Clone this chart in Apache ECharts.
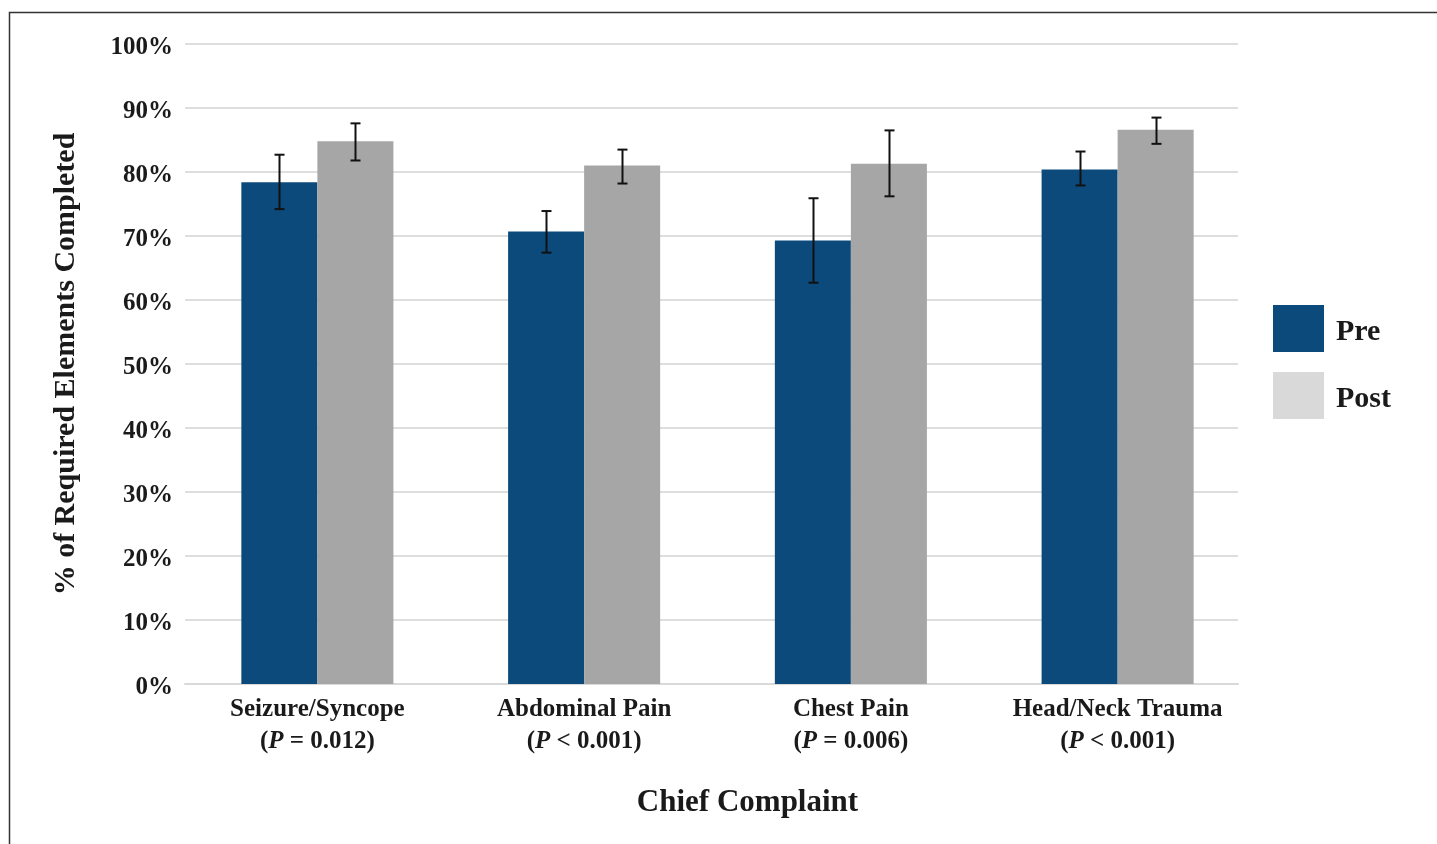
<!DOCTYPE html>
<html>
<head>
<meta charset="utf-8">
<script src="https://cdn.jsdelivr.net/npm/echarts@6/dist/echarts.min.js"></script>
<style>
html,body{margin:0;padding:0;background:#fff;}
#chart{width:1437px;height:844px;}
</style>
</head>
<body>
<div id="chart"></div>
<script>
const categories = ['Seizure/Syncope', 'Abdominal Pain', 'Chest Pain', 'Head/Neck Trauma'];
const pLabels = ['= 0.012', '< 0.001', '= 0.006', '< 0.001'];
const preValues = [78.4, 70.7, 69.3, 80.4];
const preLow = [74.2, 67.4, 62.7, 77.9];
const preHigh = [82.7, 73.9, 75.9, 83.2];
const postValues = [84.8, 81.0, 81.3, 86.6];
const postLow = [81.8, 78.2, 76.2, 84.4];
const postHigh = [87.6, 83.5, 86.5, 88.5];
const yTicks = [0, 10, 20, 30, 40, 50, 60, 70, 80, 90, 100];

const FONT = '"Liberation Serif", "DejaVu Serif", serif';
const PRE_COLOR = '#0c4a7c';
const POST_COLOR = '#a6a6a6';
const POST_LEGEND = '#d9d9d9';
const BAR_FRAC = 0.285;

function errorSeries(name, low, high, side) {
  return {
    name: name + ' err',
    type: 'custom',
    xAxisIndex: 0, yAxisIndex: 0,
    z: 10,
    silent: true,
    data: categories.map((c, i) => [i, low[i], high[i]]),
    renderItem: function (params, api) {
      const i = api.value(0);
      const band = api.size([1, 0])[0];
      const off = side * band * BAR_FRAC / 2;
      const lo = api.coord([i, api.value(1)]);
      const hi = api.coord([i, api.value(2)]);
      const x = Math.round(lo[0] + off) + 0.5;
      const cap = 5;
      const style = { stroke: '#111', lineWidth: 2 };
      return {
        type: 'group',
        children: [
          { type: 'line', shape: { x1: x, y1: lo[1], x2: x, y2: hi[1] }, style: style },
          { type: 'line', shape: { x1: x - cap, y1: lo[1], x2: x + cap, y2: lo[1] }, style: style },
          { type: 'line', shape: { x1: x - cap, y1: hi[1], x2: x + cap, y2: hi[1] }, style: style }
        ]
      };
    }
  };
}

const chart = echarts.init(document.getElementById('chart'));
chart.setOption({
  animation: false,
  backgroundColor: '#fff',
  graphic: [{
    type: 'rect',
    shape: { x: 9.5, y: 12.5, width: 1600, height: 1000 },
    style: { fill: 'none', stroke: '#333', lineWidth: 1.5 },
    silent: true
  }],
  grid: [
    { left: 184, right: 186, top: 44, bottom: 160, containLabel: false },
    { left: 185, right: 199, top: 44, bottom: 160, containLabel: false }
  ],
  legend: {
    orient: 'vertical',
    left: 1273,
    top: 305,
    padding: 0,
    itemWidth: 51,
    itemHeight: 47,
    itemGap: 20,
    icon: 'rect',
    formatter: '{a|{name}}',
    textStyle: {
      fontFamily: FONT, fontWeight: 'bold', fontSize: 30, color: '#1a1a1a',
      rich: { a: { fontFamily: FONT, fontWeight: 'bold', fontSize: 30, color: '#1a1a1a', padding: [8, 0, 0, 7] } }
    },
    data: [
      { name: 'Pre', itemStyle: { color: PRE_COLOR } },
      { name: 'Post', itemStyle: { color: POST_LEGEND } }
    ]
  },
  xAxis: [
    {
      gridIndex: 0,
      type: 'category',
      data: categories,
      name: 'Chief Complaint',
      nameLocation: 'middle',
      nameGap: 103,
      nameTextStyle: { fontFamily: FONT, fontWeight: 'bold', fontSize: 31, color: '#1a1a1a', padding: [0, 0, 0, 60] },
      axisLine: { show: false },
      axisTick: { show: false },
      axisLabel: {
        margin: 10,
        interval: 0,
        lineHeight: 32,
        formatter: function (v, idx) {
          return '{b|' + v + '}\n{b|(}{i|P}{b| ' + pLabels[idx] + ')}';
        },
        rich: {
          b: { fontFamily: FONT, fontWeight: 'bold', fontSize: 25, color: '#1a1a1a', lineHeight: 32 },
          i: { fontFamily: FONT, fontWeight: 'bold', fontStyle: 'italic', fontSize: 25, color: '#1a1a1a', lineHeight: 32 }
        }
      }
    },
    {
      gridIndex: 1,
      type: 'category',
      data: categories,
      axisLine: { show: true, lineStyle: { color: '#d9d9d9', width: 2 } },
      axisTick: { show: false },
      axisLabel: { show: false }
    }
  ],
  yAxis: [
    {
      gridIndex: 0,
      type: 'value',
      min: yTicks[0],
      max: yTicks[yTicks.length - 1],
      interval: 10,
      axisLine: { show: false },
      axisTick: { show: false },
      axisLabel: { show: false },
      splitLine: { show: false }
    },
    {
      gridIndex: 1,
      type: 'value',
      min: yTicks[0],
      max: yTicks[yTicks.length - 1],
      interval: 10,
      name: '% of Required Elements Completed',
      nameLocation: 'middle',
      nameGap: 104,
      nameTextStyle: { fontFamily: FONT, fontWeight: 'bold', fontSize: 30, color: '#1a1a1a' },
      axisLine: { show: false },
      axisTick: { show: false },
      axisLabel: {
        margin: 12,
        formatter: '{a|{value}%}',
        rich: { a: { fontFamily: FONT, fontWeight: 'bold', fontSize: 25, color: '#1a1a1a', padding: [7, 0, 0, 0] } },
        fontFamily: FONT, fontWeight: 'bold', fontSize: 25, color: '#1a1a1a'
      },
      splitLine: { lineStyle: { color: '#dedede', width: 2 } }
    }
  ],
  series: [
    {
      name: 'Pre', type: 'bar', data: preValues,
      xAxisIndex: 0, yAxisIndex: 0,
      barWidth: (BAR_FRAC * 100) + '%', barGap: '0%',
      z: 5,
      itemStyle: { color: PRE_COLOR }
    },
    {
      name: 'Post', type: 'bar', data: postValues,
      xAxisIndex: 0, yAxisIndex: 0,
      barWidth: (BAR_FRAC * 100) + '%', barGap: '0%',
      z: 5,
      itemStyle: { color: POST_COLOR }
    },
    errorSeries('Pre', preLow, preHigh, -1),
    errorSeries('Post', postLow, postHigh, 1)
  ]
});
</script>
</body>
</html>
